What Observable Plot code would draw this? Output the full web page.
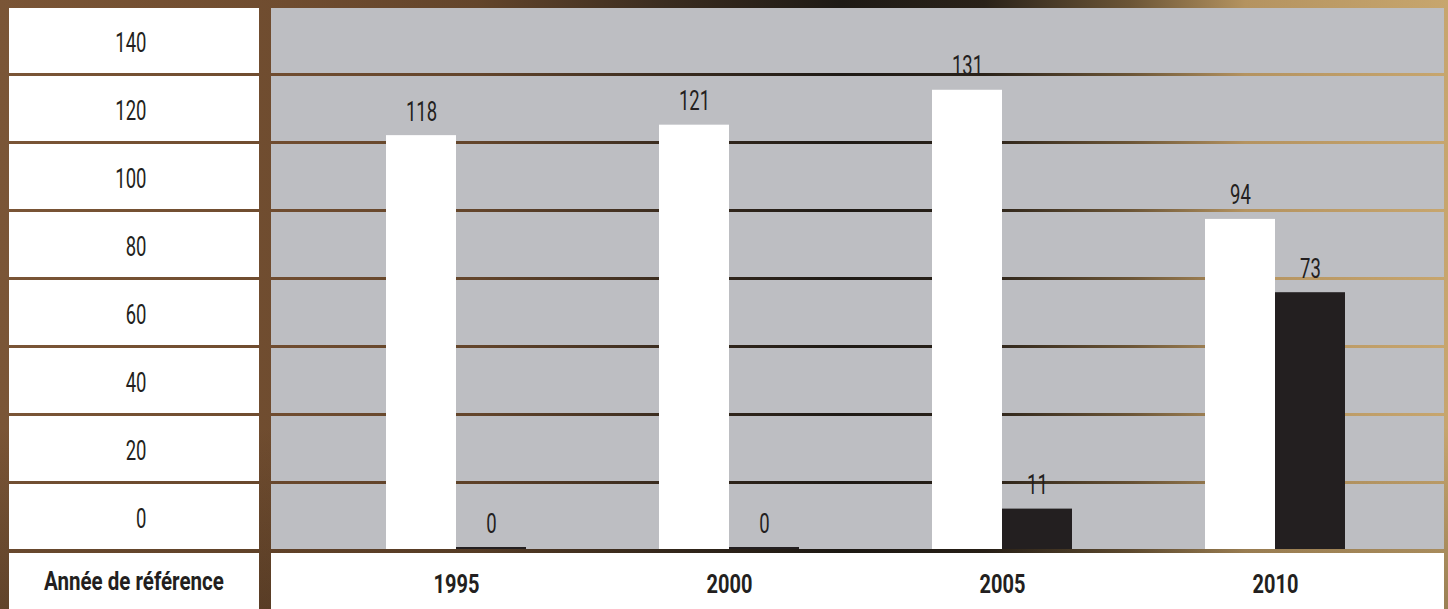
<!DOCTYPE html>
<html>
<head>
<meta charset="utf-8">
<script src="https://cdn.jsdelivr.net/npm/d3@7"></script>
<script src="https://cdn.jsdelivr.net/npm/@observablehq/plot@0.6"></script>
<style>
  html, body { margin: 0; padding: 0; background: #3b2b1d; }
  #wrap {
    position: relative; width: 1448px; height: 609px; overflow: hidden;
    background:
      linear-gradient(180deg, rgba(0,0,0,0) 0%, rgba(0,0,0,0) 70%, rgba(20,14,8,0.25) 100%),
      linear-gradient(90deg, #7a5536 0%, #6f4c2f 20%, #63452b 33%, #3a2c1f 46%, #1e1a15 58%, #2a2219 68%, #6b5536 78%, #b49360 86%, #c7a66e 100%);
  }
  .cell {
    position: absolute; background: #ffffff; display: flex; align-items: center; justify-content: center;
    font-family: Roboto, 'DejaVu Sans', sans-serif;
    color: #231f20;
  }
  .cell span { display: inline-block; white-space: nowrap; transform-origin: 50% 50%; }
  #plot { position: absolute; left: 0; top: 0; z-index: 2; }
</style>
</head>
<body>
<div id="wrap"></div>
<script>
// ---- data ----
const years = ["1995", "2000", "2005", "2010"];
const seriesWhite = [118, 121, 131, 94];
const seriesDark = [0, 0, 11, 73];
const yTickLabels = [0, 20, 40, 60, 80, 100, 120, 140];
const xTitle = "Année de référence";

// ---- layout / style ----
const W = 1448, H = 609;
const mLeft = 271, mRight = 4, mTop = 8, mBottom = 60;
const font = "Roboto, 'DejaVu Sans', sans-serif";
const ink = "#231f20";
const yMax = 155;
const rowGap = 0.86;
const rowStep = (yMax + rowGap) / yTickLabels.length;
const cellH = rowStep - rowGap;

const rows = yTickLabels.map((t, i) => ({
  label: String(t), y1: i * rowStep, y2: i * rowStep + cellH, yc: i * rowStep + cellH / 2
}));
const labelByTick = new Map(rows.map(r => [r.yc, r.label]));
const dataWhite = years.map((yr, i) => ({year: yr, value: seriesWhite[i]}));
const dataDark = years.map((yr, i) => ({year: yr, value: seriesDark[i]}));

const plot = Plot.plot({
  width: W, height: H,
  marginLeft: mLeft, marginRight: mRight, marginTop: mTop, marginBottom: mBottom,
  style: {background: "transparent", fontFamily: font, color: ink, overflow: "visible"},
  x: {domain: years, paddingInner: 0.488, paddingOuter: 0.39, align: 0.535, label: null},
  y: {domain: [0, yMax], label: null},
  marks: [
    Plot.rect(rows, {y1: "y1", y2: "y2", fill: "#bdbec2"}),
    Plot.barY(dataWhite, {x: "year", y: "value", fill: "#ffffff", insetRight: 70, insetTop: -2}),
    Plot.barY(dataDark, {x: "year", y: "value", fill: ink, insetLeft: 70, insetTop: -2}),
    Plot.text(dataWhite, {x: "year", y: "value", text: d => String(d.value), dx: -35, dy: -17,
      lineAnchor: "bottom", fontSize: 28, fill: ink}),
    Plot.text(dataDark, {x: "year", y: "value", text: d => String(d.value), dx: 35, dy: -17,
      lineAnchor: "bottom", fontSize: 28, fill: ink}),
    Plot.axisY(rows.map(r => r.yc), {tickSize: 0, tickPadding: 125, textAnchor: "end",
      tickFormat: d => labelByTick.get(d), fontSize: 28, dy: 2, fill: ink}),
    Plot.axisX({tickSize: 0, tickPadding: 26, fontSize: 25, fontWeight: "bold", fill: ink})
  ]
});
plot.id = "plot";

// condensed lettering: squeeze each text horizontally about its own anchor
plot.querySelectorAll("text").forEach(t => {
  const bold = t.closest("[font-weight]");
  const s = bold && bold.getAttribute("font-weight") === "bold" ? 0.8 : 0.66;
  const X = +t.getAttribute("x") || 0;
  const T = t.getAttribute("transform") || "";
  t.setAttribute("transform", `${T} translate(${X},0) scale(${s},1) translate(${-X},0)`);
});

const wrap = document.getElementById("wrap");
const y = plot.scale("y");
for (const r of rows) {
  const top = y.apply(r.y2), bottom = y.apply(r.y1);
  const c = document.createElement("div");
  c.className = "cell";
  c.style.left = "9px"; c.style.width = (mLeft - 12 - 9) + "px";
  c.style.top = top + "px"; c.style.height = (bottom - top) + "px";
  wrap.appendChild(c);
}
const base = y.apply(0);
const bl = document.createElement("div");
bl.className = "cell";
bl.style.left = "9px"; bl.style.width = (mLeft - 12 - 9) + "px";
bl.style.top = (base + 4) + "px"; bl.style.height = (H - base - 4) + "px";
const span = document.createElement("span");
span.style.fontSize = "26px"; span.style.fontWeight = "bold";
span.textContent = xTitle;
bl.appendChild(span);
wrap.appendChild(bl);
const br = document.createElement("div");
br.className = "cell";
br.style.left = mLeft + "px"; br.style.width = (W - mLeft - mRight) + "px";
br.style.top = (base + 4) + "px"; br.style.height = (H - base - 4) + "px";
wrap.appendChild(br);
wrap.appendChild(plot);
span.style.transform = `scaleX(${Math.min(1, 180 / span.offsetWidth)})`;
</script>
</body>
</html>
